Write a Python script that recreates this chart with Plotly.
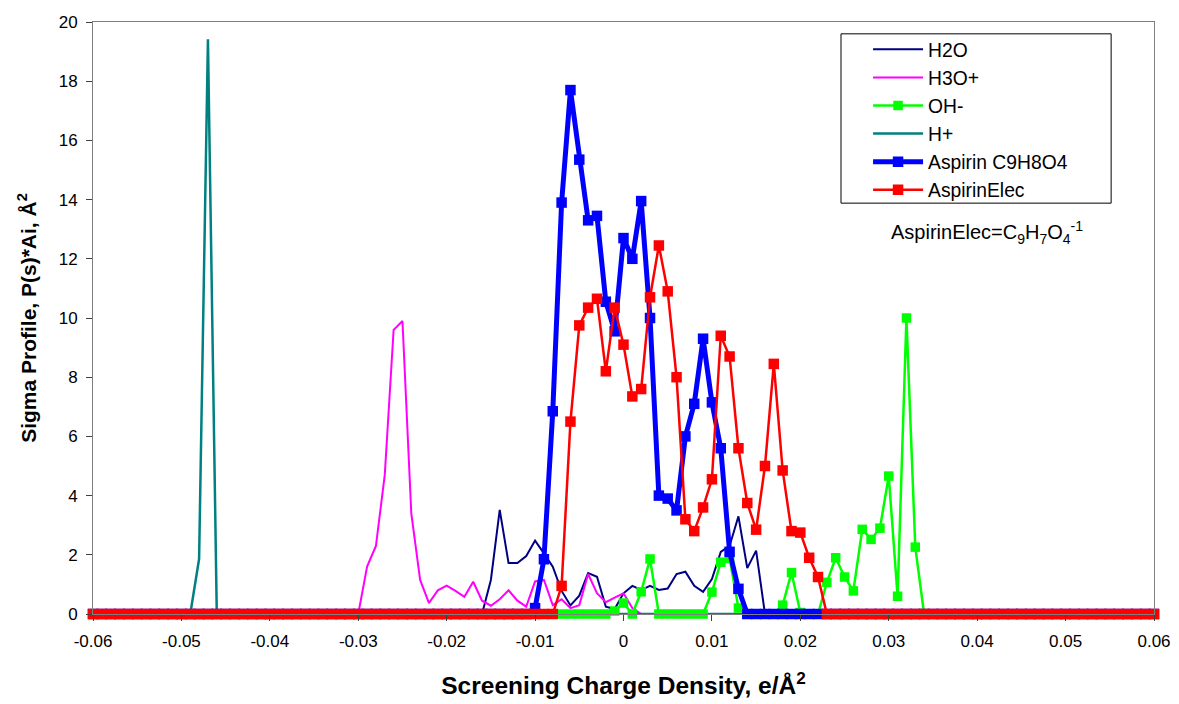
import plotly.graph_objects as go

# ---- data (sigma grid: -0.06 .. 0.06, step 0.001) ----
sigma = [round(i / 1000, 3) for i in range(-60, 61)]

h2o_start = -0.016
h2o_vals = [0, 1.15, 3.52, 1.72, 1.72, 1.96, 2.48, 2.05, 1.6, 0.78, 0.29, 0.62, 1.38, 1.26,
            0.25, 0.17, 0.7, 0.95, 0.81, 0.95, 0.81, 0.86, 1.35, 1.43, 0.95, 0.75, 1.18,
            2.1, 2.3, 3.3, 1.55, 2.14, 0]

h3o_start = -0.030
h3o_vals = [0, 1.6, 2.3, 4.7, 9.6, 9.9, 3.4, 1.15, 0.37, 0.8, 0.96, 0.78, 0.58, 1.09, 0.45,
            0.28, 0.5, 0.8, 0.45, 0.25, 1.1, 1.15, 0.3, 0.5, 0.2, 0.3, 1.35, 0.7, 0.4, 0.55,
            0.7, 0.2, 0]

oh_start = -0.001
oh_vals = [0.1, 0.37, 0, 0.75, 1.86, 0, 0, 0, 0, 0, 0, 0.74, 1.75, 1.88, 0.2, 0, 0, 0, 0,
           0.3, 1.4, 0.05, 0, 0, 1.07, 1.9, 1.25, 0.78, 2.86, 2.52, 2.9, 4.66, 0.6, 10.0,
           2.26, 0]

hplus_start = -0.049
hplus_vals = [0, 1.86, 19.42, 0]

asp_start = -0.010
asp_vals = [0.2, 1.85, 6.85, 13.9, 17.7, 15.35, 13.3, 13.45, 10.55, 9.55, 12.7, 12.0, 13.95,
            10.0, 4.0, 3.9, 3.5, 6.0, 7.1, 9.3, 7.15, 5.6, 2.1, 0.85]

elec_start = -0.007
elec_vals = [0.95, 6.5, 9.75, 10.35, 10.65, 8.2, 10.35, 9.1, 7.35, 7.6, 10.7, 12.45, 10.9,
             8.0, 3.2, 2.8, 3.6, 4.55, 9.4, 8.7, 5.6, 3.75, 2.85, 5.0, 8.45, 4.85, 2.8, 2.75,
             1.9, 1.25]

x_tickvals = [-0.06, -0.05, -0.04, -0.03, -0.02, -0.01, 0, 0.01, 0.02, 0.03, 0.04, 0.05, 0.06]
x_ticktext = ["-0.06", "-0.05", "-0.04", "-0.03", "-0.02", "-0.01", "0", "0.01", "0.02",
              "0.03", "0.04", "0.05", "0.06"]
y_tickvals = [0, 2, 4, 6, 8, 10, 12, 14, 16, 18, 20]


def full(start, vals):
    out = [0.0] * len(sigma)
    i0 = sigma.index(round(start, 3))
    for k, v in enumerate(vals):
        out[i0 + k] = v
    return out


FONT = "Liberation Sans, Arial, sans-serif"
fig = go.Figure()

# draw order (H+ beneath OH-), legend order set by legendrank
series = [
    ("H2O", full(h2o_start, h2o_vals), "#000080", 2, None, 1),
    ("H3O+", full(h3o_start, h3o_vals), "#FF00FF", 2, None, 2),
    ("H+", full(hplus_start, hplus_vals), "#008080", 2.5, None, 4),
    ("OH-", full(oh_start, oh_vals), "#00FF00", 2.5, 9.5, 3),
    ("Aspirin C9H8O4", full(asp_start, asp_vals), "#0000FF", 5, 10.5, 5),
    ("AspirinElec", full(elec_start, elec_vals), "#FF0000", 2.5, 10.5, 6),
]
for name, y, col, lw, ms, rank in series:
    kw = dict(mode="lines+markers", marker=dict(symbol="square", size=ms, color=col)) if ms else dict(mode="lines")
    fig.add_trace(go.Scatter(x=sigma, y=y, name=name, line=dict(color=col, width=lw),
                             legendrank=rank, cliponaxis=False, **kw))

fig.update_layout(
    width=1171, height=696, autosize=False,
    margin=dict(l=85, r=25, t=14, b=90),
    paper_bgcolor="white", plot_bgcolor="white",
    font=dict(family=FONT, color="black", size=17),
    showlegend=True,
    legend=dict(x=0.7305, y=0.986, xanchor="left", yanchor="top", bgcolor="rgba(0,0,0,0)",
                borderwidth=0, font=dict(size=19.3, family=FONT),
                itemwidth=50, traceorder="normal"),
    shapes=[dict(type="rect", xref="paper", yref="paper", x0=0.705, x1=0.9596, y0=0.694, y1=0.98,
                 line=dict(color="black", width=1), fillcolor="white", layer="below")],
    annotations=[dict(text="AspirinElec=C<sub>9</sub>H<sub>7</sub>O<sub>4</sub><sup>-1</sup>",
                      xref="paper", yref="paper", x=0.843, y=0.645, xanchor="center",
                      yanchor="middle", showarrow=False, font=dict(size=20, family=FONT))],
)
fig.update_xaxes(range=[-0.06, 0.06], tickvals=x_tickvals, ticktext=x_ticktext,
                 ticks="outside", ticklen=6, tickcolor="#404040", showline=True,
                 linecolor="#808080", mirror=True, showgrid=False, zeroline=False,
                 tickfont=dict(size=17), automargin=False, ticklabelstandoff=6,
                 title=dict(text="<b>Screening Charge Density, e/Å<sup>2</sup></b>",
                            font=dict(size=24.5), standoff=26))
fig.update_yaxes(range=[0, 20], tickvals=y_tickvals, ticks="outside", ticklen=6,
                 tickcolor="#404040", showline=True, linecolor="#808080", mirror=True,
                 showgrid=False, zeroline=False, tickfont=dict(size=17), automargin=False,
                 ticklabelstandoff=5,
                 title=dict(text="<b>Sigma Profile, P(s)*Ai, Å<sup>2</sup></b>",
                            font=dict(size=21), standoff=16))

fig.write_html("out.html")
